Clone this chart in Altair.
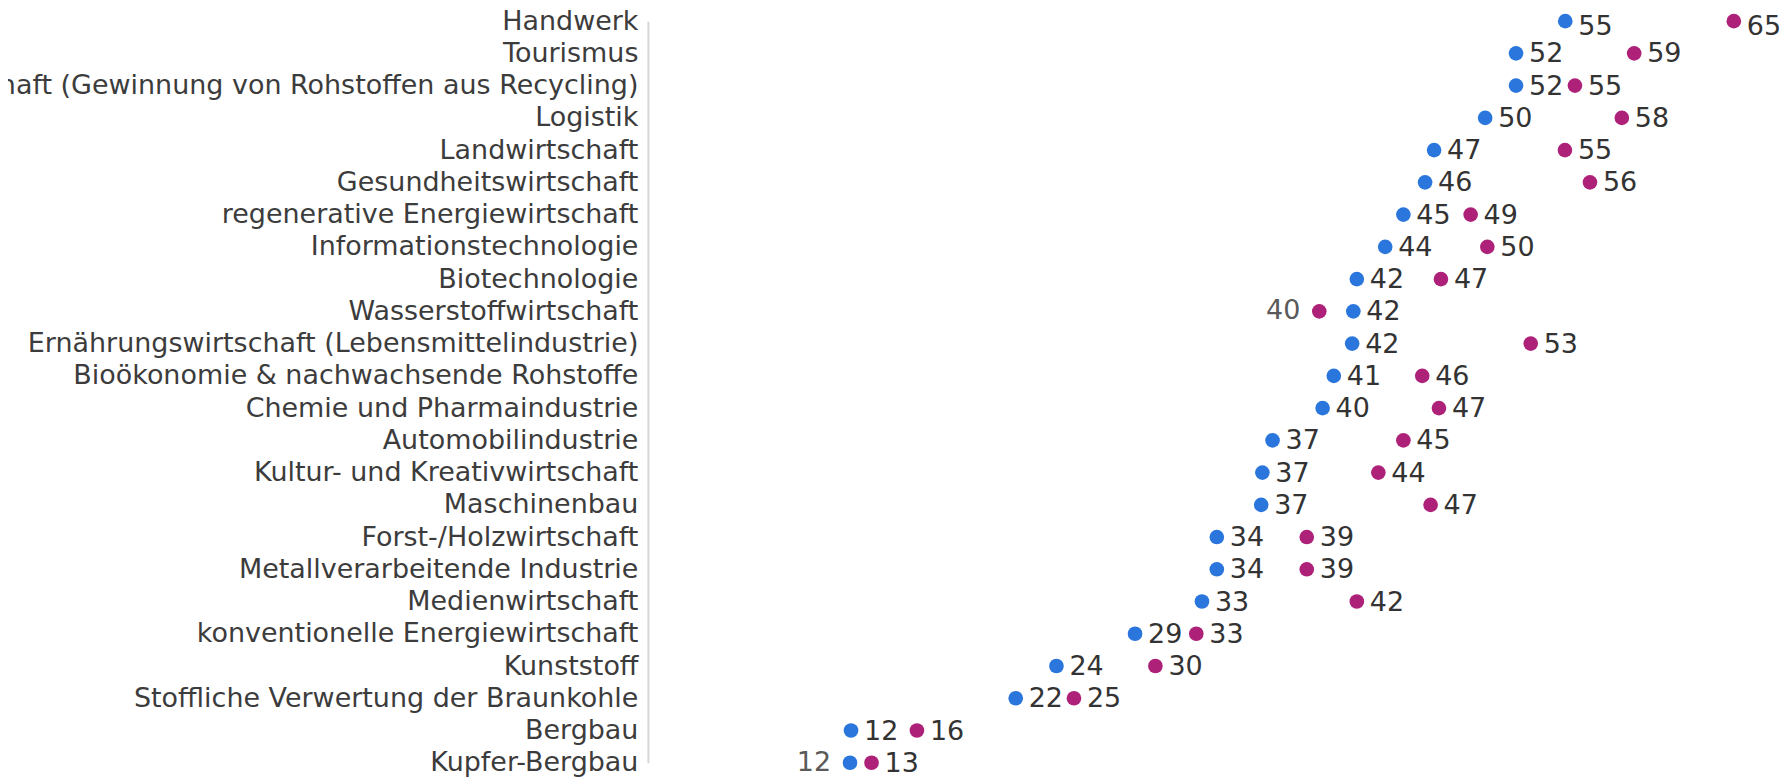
import altair as alt
import pandas as pd

categories = [
    "Handwerk",
    "Tourismus",
    "Kreislaufwirtschaft (Gewinnung von Rohstoffen aus Recycling)",
    "Logistik",
    "Landwirtschaft",
    "Gesundheitswirtschaft",
    "regenerative Energiewirtschaft",
    "Informationstechnologie",
    "Biotechnologie",
    "Wasserstoffwirtschaft",
    "Ernährungswirtschaft (Lebensmittelindustrie)",
    "Bioökonomie & nachwachsende Rohstoffe",
    "Chemie und Pharmaindustrie",
    "Automobilindustrie",
    "Kultur- und Kreativwirtschaft",
    "Maschinenbau",
    "Forst-/Holzwirtschaft",
    "Metallverarbeitende Industrie",
    "Medienwirtschaft",
    "konventionelle Energiewirtschaft",
    "Kunststoff",
    "Stoffliche Verwertung der Braunkohle",
    "Bergbau",
    "Kupfer-Bergbau",
]

blue_values = [54.87, 51.92, 51.92, 50.07, 47.01, 46.47, 45.17, 44.08, 42.38, 42.17,
               42.10, 41.00, 40.33, 37.33, 36.72, 36.65, 33.99, 33.99, 33.10, 29.09,
               24.38, 21.94, 12.07, 12.01]
magenta_values = [64.97, 59.00, 55.45, 58.26, 54.85, 56.35, 49.20, 50.20, 47.42, 40.13,
                  52.80, 46.30, 47.30, 45.17, 43.67, 46.80, 39.38, 39.38, 42.38, 32.76,
                  30.31, 25.43, 16.02, 13.30]

series_names = ["Blau", "Magenta"]
series_colors = ["#2a76dc", "#ad2179"]

rows = []
for i, (cat, b, m) in enumerate(zip(categories, blue_values, magenta_values)):
    close = abs(b - m) < 2.5
    rows.append({"category": cat, "row": i, "series": series_names[0], "value": b,
                 "side": "left" if (close and b < m) else "right"})
    rows.append({"category": cat, "row": i, "series": series_names[1], "value": m,
                 "side": "left" if (close and m < b) else "right"})
df = pd.DataFrame(rows)

FONT = "DejaVu Sans"
FS = 27

x = alt.X("value:Q", scale=alt.Scale(domain=[-0.1, 66.9], nice=False, zero=False), axis=None)
y = alt.Y(
    "category:N",
    sort=categories,
    scale=alt.Scale(type="point", range=[12.5, 755.4], padding=0),
    axis=alt.Axis(
        title=None,
        ticks=False,
        tickSize=0,
        grid=False,
        domain=True,
        domainColor="#d6d6d6",
        domainWidth=2,
        labelFont=FONT,
        labelFontSize=FS,
        labelColor="#3c3c3c",
        labelPadding=10,
        labelLimit=2000,
        labelAlign="right",
        labelBaseline="middle",
    ),
)
color = alt.Color("series:N", scale=alt.Scale(domain=series_names, range=series_colors), legend=None)

base = alt.Chart(df).encode(x=x, y=y)

dots = base.mark_circle(size=215, opacity=1).encode(color=color)

right_top = base.transform_filter(
    (alt.datum.side == "right") & (alt.datum.row == 0)
).mark_text(
    align="left", baseline="middle", dx=13, dy=6, font=FONT, fontSize=FS, color="#333333"
).encode(text=alt.Text("value:Q", format=".0f"))

right_labels = base.transform_filter(
    (alt.datum.side == "right") & (alt.datum.row > 0)
).mark_text(
    align="left", baseline="middle", dx=13, dy=1, font=FONT, fontSize=FS, color="#333333"
).encode(text=alt.Text("value:Q", format=".0f"))

left_labels = base.transform_filter(alt.datum.side == "left").mark_text(
    align="right", baseline="middle", dx=-19, dy=0, font=FONT, fontSize=FS, color="#5a5a5a"
).encode(text=alt.Text("value:Q", format=".0f"))

chart = (
    alt.layer(dots, right_top, right_labels, left_labels)
    .properties(
        width=1120,
        height=770,
        autosize=alt.AutoSizeParams(type="none"),
        padding={"left": 641, "top": 0, "right": 14, "bottom": 0},
        background="white",
    )
    .configure_view(stroke=None)
)

chart.save("out.html", embed_options={"renderer": "svg", "actions": False})
